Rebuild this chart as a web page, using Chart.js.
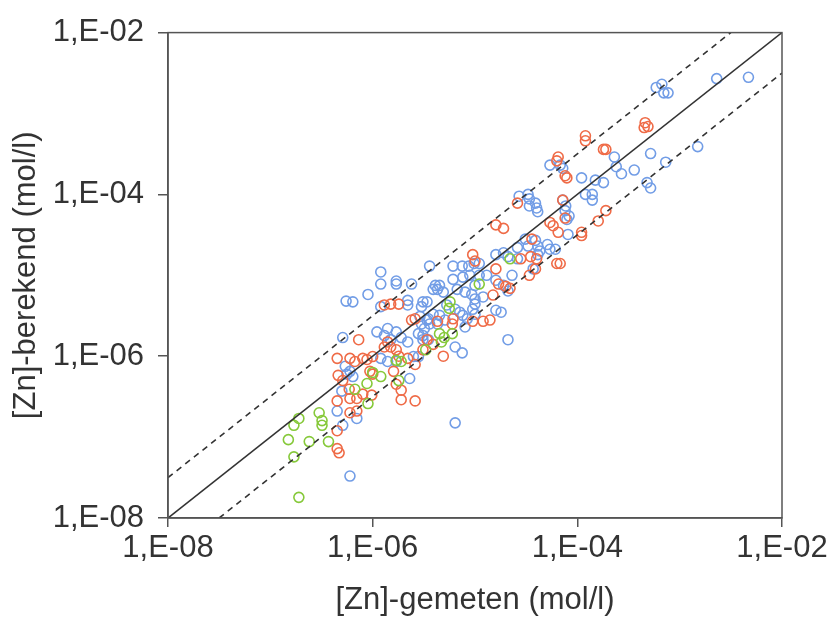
<!DOCTYPE html>
<html>
<head>
<meta charset="utf-8">
<script src="https://cdn.jsdelivr.net/npm/chart.js@4"></script>
<style>
  html, body { margin: 0; padding: 0; background: #fff; }
  canvas { display: block; }
</style>
</head>
<body>
<canvas id="myChart" width="833" height="622"></canvas>
<script>
// tick labels on both axes
var tickValues = [1e-8, 1e-6, 1e-4, 1e-2];
var tickLabels = ['1,E-08', '1,E-06', '1,E-04', '1,E-02'];

// series 1 (blauw)
var blueX = [2.3e-3, 4.7e-3, 5.9e-4, 6.7e-4, 7.0e-4, 7.7e-4, 1.5e-3, 5.2e-4, 7.3e-4, 2.3e-4,
  2.4e-4, 2.7e-4, 3.6e-4, 4.8e-4, 5.2e-4, 1.1e-4, 1.5e-4, 1.8e-4, 5.4e-5, 6.8e-5,
  7.2e-5, 1.2e-4, 1.4e-4, 1.4e-4, 7.2e-5, 7.7e-5, 7.6e-5, 8.3e-5, 7.9e-5, 2.7e-5,
  3.3e-5, 3.4e-5, 3.9e-5, 3.4e-5, 4.0e-5, 4.1e-5, 8.1e-5, 3.1e-5, 3.9e-5, 3.3e-5,
  4.1e-5, 2.6e-5, 4.3e-5, 5.1e-5, 5.4e-5, 6.1e-5, 1.6e-5, 1.9e-5, 3.6e-6, 6.1e-6,
  7.5e-6, 8.7e-6, 9.8e-6, 1.1e-5, 6.1e-6, 7.6e-6, 8.9e-6, 1.1e-5, 1.3e-5, 4.5e-6,
  4.9e-6, 3.9e-6, 3.4e-6, 3.0e-6, 6.7e-6, 8.0e-6, 9.3e-6, 1.0e-5, 1.2e-5, 1.6e-5,
  1.9e-5, 2.1e-5, 1.0e-5, 1.0e-5, 9.5e-6, 1.0e-5, 5.3e-6, 6.4e-6, 7.1e-6, 8.4e-6,
  7.6e-6, 3.9e-6, 4.5e-6, 4.3e-6, 5.1e-6, 3.5e-6, 1.6e-5, 1.8e-5, 2.1e-5, 6.4e-6,
  7.5e-6, 3.0e-6, 3.2e-6, 3.1e-6, 8.0e-6, 2.3e-5, 3.7e-5, 2.6e-5, 2.1e-5, 4.1e-5,
  1.2e-6, 1.2e-6, 1.7e-6, 1.7e-6, 2.4e-6, 9.0e-7, 5.5e-7, 6.4e-7, 2.2e-6, 2.2e-6,
  3.1e-6, 4.1e-6, 4.3e-6, 1.2e-6, 2.9e-6, 3.4e-6, 3.6e-6, 5.1e-7, 1.1e-6, 1.3e-6,
  1.4e-6, 1.5e-6, 1.7e-6, 1.9e-6, 2.2e-6, 2.8e-6, 3.1e-6, 3.5e-6, 5.4e-7, 6.0e-7,
  6.4e-7, 1.2e-6, 1.4e-6, 1.7e-6, 2.5e-6, 2.8e-6, 2.3e-6, 5.0e-7, 4.5e-7, 7.0e-7,
  5.1e-7, 6.0e-7, 6.4e-6, 5.6e-7];
var blueY = [2.7e-3, 2.8e-3, 2.1e-3, 2.3e-3, 1.8e-3, 1.8e-3, 3.9e-4, 3.2e-4, 2.5e-4, 2.9e-4,
  2.2e-4, 1.8e-4, 2.0e-4, 1.4e-4, 1.2e-4, 1.6e-4, 1.5e-4, 1.4e-4, 2.3e-4, 2.3e-4,
  2.1e-4, 1.0e-4, 1.0e-4, 8.5e-5, 8.5e-5, 7.2e-5, 6.3e-5, 5.4e-5, 4.9e-5, 9.5e-5,
  1.0e-4, 8.8e-5, 7.8e-5, 7.2e-5, 6.8e-5, 6.1e-5, 3.2e-5, 2.8e-5, 2.7e-5, 2.3e-5,
  2.3e-5, 2.2e-5, 2.0e-5, 2.4e-5, 2.1e-5, 2.1e-5, 1.8e-5, 1.9e-5, 1.3e-5, 1.3e-5,
  1.3e-5, 1.3e-5, 1.4e-5, 1.4e-5, 8.9e-6, 9.5e-6, 1.0e-5, 1.0e-5, 1.0e-5, 7.5e-6,
  6.2e-6, 6.7e-6, 4.7e-6, 4.1e-6, 6.7e-6, 6.2e-6, 5.8e-6, 5.1e-6, 5.4e-6, 8.7e-6,
  7.5e-6, 6.4e-6, 7.5e-6, 4.4e-6, 3.8e-6, 3.3e-6, 4.3e-6, 3.8e-6, 3.5e-6, 2.9e-6,
  3.2e-6, 3.3e-6, 3.2e-6, 2.5e-6, 2.8e-6, 2.9e-6, 3.7e-6, 3.5e-6, 1.6e-6, 1.3e-6,
  1.1e-6, 2.5e-6, 2.2e-6, 1.6e-6, 2.3e-6, 1.0e-5, 1.2e-5, 1.6e-5, 1.7e-5, 1.8e-5,
  1.1e-5, 7.8e-6, 8.5e-6, 7.8e-6, 7.8e-6, 5.8e-6, 4.8e-6, 4.7e-6, 4.9e-6, 4.3e-6,
  4.7e-6, 7.5e-6, 6.7e-6, 4.1e-6, 3.1e-6, 2.8e-6, 2.5e-6, 1.7e-6, 2.0e-6, 1.8e-6,
  2.2e-6, 1.6e-6, 2.0e-6, 1.7e-6, 1.5e-6, 1.9e-6, 1.8e-6, 1.6e-6, 7.5e-7, 6.5e-7,
  5.6e-7, 9.4e-7, 8.6e-7, 8.6e-7, 9.9e-7, 9.9e-7, 5.3e-7, 3.7e-7, 2.1e-7, 1.7e-7,
  1.4e-7, 3.3e-8, 1.5e-7, 6.0e-7];

// series 2 (rood)
var redX = [4.6e-4, 4.9e-4, 4.5e-4, 1.2e-4, 1.2e-4, 1.8e-4, 1.9e-4, 6.5e-5, 6.3e-5, 7.6e-5,
  7.9e-5, 7.2e-5, 1.9e-4, 1.6e-4, 2.6e-5, 1.6e-5, 1.9e-5, 5.4e-5, 5.8e-5, 6.5e-5,
  7.6e-5, 1.1e-4, 1.1e-4, 6.3e-5, 6.8e-5, 3.6e-5, 3.5e-5, 4.0e-5, 9.5e-6, 1.0e-5,
  1.6e-5, 1.7e-5, 2.0e-5, 2.2e-5, 1.5e-5, 3.4e-5, 3.9e-5, 2.8e-5, 6.1e-6, 6.0e-6,
  9.5e-6, 1.2e-5, 1.4e-5, 3.4e-6, 3.9e-6, 3.1e-6, 4.3e-6, 1.3e-6, 1.5e-6, 1.8e-6,
  2.4e-6, 2.6e-6, 7.3e-7, 1.4e-6, 1.5e-6, 1.7e-6, 4.5e-7, 6.0e-7, 6.7e-7, 8.0e-7,
  8.8e-7, 1.0e-6, 1.8e-6, 2.2e-6, 4.9e-6, 1.3e-6, 9.4e-7, 1.0e-6, 4.6e-7, 5.1e-7,
  5.9e-7, 6.0e-7, 7.0e-7, 8.0e-7, 9.8e-7, 4.5e-7, 6.0e-7, 7.0e-7, 4.5e-7, 4.5e-7,
  4.7e-7, 1.6e-6, 1.7e-6, 1.9e-6, 1.9e-6, 2.6e-6, 2.6e-6];
var redY = [7.7e-4, 6.9e-4, 6.7e-4, 5.3e-4, 4.6e-4, 3.6e-4, 3.6e-4, 2.9e-4, 2.6e-4, 1.7e-4,
  1.6e-4, 8.5e-5, 6.3e-5, 4.7e-5, 7.8e-5, 4.2e-5, 3.8e-5, 4.5e-5, 4.1e-5, 3.4e-5,
  5.1e-5, 3.1e-5, 3.4e-5, 1.4e-5, 1.4e-5, 2.8e-5, 1.7e-5, 1.6e-5, 1.8e-5, 1.5e-5,
  1.2e-5, 7.8e-6, 7.3e-6, 6.9e-6, 5.7e-6, 1.0e-5, 1.2e-5, 1.6e-5, 2.9e-6, 2.5e-6,
  2.7e-6, 2.7e-6, 2.8e-6, 1.6e-6, 1.4e-6, 1.2e-6, 2.7e-6, 4.3e-6, 4.4e-6, 4.4e-6,
  2.8e-6, 2.9e-6, 1.6e-6, 1.5e-6, 1.3e-6, 1.2e-6, 9.4e-7, 9.4e-7, 8.6e-7, 9.4e-7,
  9.1e-7, 9.9e-7, 1.0e-6, 9.4e-7, 1.0e-6, 1.3e-6, 6.5e-7, 6.0e-7, 5.8e-7, 5.0e-7,
  3.9e-7, 3.0e-7, 3.0e-7, 3.4e-7, 3.3e-7, 2.8e-7, 2.0e-7, 2.1e-7, 1.2e-7, 7.2e-8,
  6.4e-8, 6.5e-7, 4.5e-7, 3.8e-7, 2.9e-7, 2.8e-7, 7.9e-7];

// series 3 (groen)
var greenX = [2.2e-5, 1.1e-5, 5.7e-6, 5.6e-6, 4.5e-6, 5.0e-6, 6.0e-6, 4.7e-6, 3.3e-6, 1.7e-6,
  1.9e-6, 1.0e-6, 1.2e-6, 1.8e-6, 6.7e-7, 8.8e-7, 9.0e-7, 1.9e-7, 1.7e-7, 3.0e-7,
  3.2e-7, 3.2e-7, 1.5e-7, 2.4e-7, 3.7e-7, 1.7e-7, 1.9e-7];
var greenY = [1.6e-5, 7.8e-6, 4.7e-6, 3.9e-6, 1.9e-6, 1.7e-6, 1.9e-6, 1.5e-6, 1.2e-6, 8.9e-7,
  8.6e-7, 6.3e-7, 5.6e-7, 5.0e-7, 3.9e-7, 4.6e-7, 2.6e-7, 1.7e-7, 1.4e-7, 2.0e-7,
  1.6e-7, 1.4e-7, 9.3e-8, 8.8e-8, 8.8e-8, 5.7e-8, 1.8e-8];

// 1:1 lijn en factor ~3 grenzen
var lineX = [1e-8, 1e-2];
var lineY = [1e-8, 1e-2];
var upperX = [1e-8, 3.16e-3];
var upperY = [3.16e-8, 1e-2];
var lowerX = [3.16e-8, 1e-2];
var lowerY = [1e-8, 3.16e-3];

function pairs(xs, ys) {
  return xs.map(function (x, i) { return { x: x, y: ys[i] }; });
}

var fontFam = '"Liberation Sans", Arial, sans-serif';
var axisColor = '#555';

function pointSet(label, xs, ys, color) {
  return {
    type: 'scatter',
    label: label,
    data: pairs(xs, ys),
    borderColor: color,
    backgroundColor: 'rgba(0,0,0,0)',
    pointRadius: 5,
    pointBorderWidth: 1.6,
    showLine: false
  };
}

function lineSet(label, xs, ys, dash) {
  return {
    type: 'line',
    label: label,
    data: pairs(xs, ys),
    borderColor: '#333',
    borderWidth: 1.6,
    borderDash: dash,
    pointRadius: 0,
    fill: false,
    tension: 0
  };
}

// kader rond het plotgebied
var frame = {
  id: 'frame',
  afterDraw: function (chart) {
    var a = chart.chartArea, c = chart.ctx;
    c.save();
    c.strokeStyle = axisColor;
    c.lineWidth = 1.5;
    c.strokeRect(a.left, a.top, a.right - a.left, a.bottom - a.top);
    c.restore();
  }
};

function fixTicks(scale) {
  scale.ticks = tickValues.map(function (v) { return { value: v }; });
}

var ctx = document.getElementById('myChart').getContext('2d');
var chart = new Chart(ctx, {
  data: {
    datasets: [
      lineSet('1:1', lineX, lineY, []),
      lineSet('boven', upperX, upperY, [6, 5]),
      lineSet('onder', lowerX, lowerY, [6, 5]),
      pointSet('groen', greenX, greenY, '#86c93a'),
      pointSet('rood', redX, redY, '#ef6b47'),
      pointSet('blauw', blueX, blueY, '#729de6')
    ]
  },
  plugins: [frame],
  options: {
    responsive: false,
    animation: false,
    layout: { padding: { top: 28, right: 51, left: 0, bottom: 0 } },
    plugins: { legend: { display: false }, tooltip: { enabled: false } },
    scales: {
      x: {
        type: 'logarithmic',
        min: 1e-8,
        max: 1e-2,
        afterBuildTicks: fixTicks,
        afterFit: function (s) { s.height = 104; },
        ticks: {
          autoSkip: false,
          maxRotation: 0,
          padding: 3,
          color: '#333',
          font: { family: fontFam, size: 31 },
          callback: function (v, i) { return tickLabels[i]; }
        },
        grid: { drawOnChartArea: false, drawTicks: true, tickLength: 9, color: axisColor, lineWidth: 1.5 },
        border: { display: true, color: axisColor, width: 1.5 },
        title: {
          display: true,
          text: '[Zn]-gemeten (mol/l)',
          color: '#333',
          font: { family: fontFam, size: 31 },
          padding: { top: 0, bottom: 3 }
        }
      },
      y: {
        type: 'logarithmic',
        min: 1e-8,
        max: 1e-2,
        afterBuildTicks: fixTicks,
        afterFit: function (s) { s.width = 168; },
        ticks: {
          autoSkip: false,
          padding: 14,
          color: '#333',
          font: { family: fontFam, size: 31 },
          callback: function (v, i) { return tickLabels[i]; }
        },
        grid: { drawOnChartArea: false, drawTicks: true, tickLength: 10, color: axisColor, lineWidth: 1.5 },
        border: { display: true, color: axisColor, width: 1.5 },
        title: {
          display: true,
          text: '[Zn]-berekend (mol/l)',
          color: '#333',
          font: { family: fontFam, size: 31 },
          padding: { top: 8, bottom: 0 }
        }
      }
    }
  }
});
</script>
</body>
</html>
